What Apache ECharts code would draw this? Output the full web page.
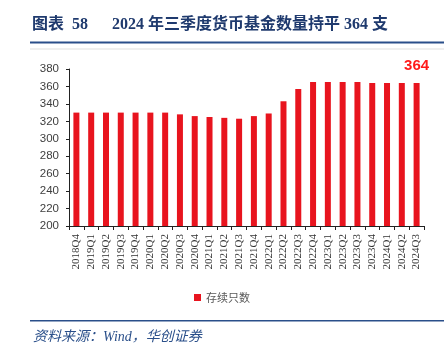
<!DOCTYPE html>
<html>
<head>
<meta charset="utf-8">
<script src="https://cdn.jsdelivr.net/npm/echarts@6/dist/echarts.min.js"></script>
<style>
  html, body { margin: 0; padding: 0; background: #fff; }
  #chart { width: 444px; height: 352px; }
</style>
</head>
<body>
<div id="chart"></div>
<script>
const quarters = [
  '2018Q4', '2019Q1', '2019Q2', '2019Q3', '2019Q4',
  '2020Q1', '2020Q2', '2020Q3', '2020Q4',
  '2021Q1', '2021Q2', '2021Q3', '2021Q4',
  '2022Q1', '2022Q2', '2022Q3', '2022Q4',
  '2023Q1', '2023Q2', '2023Q3', '2023Q4',
  '2024Q1', '2024Q2', '2024Q3'
];
const fundCount = [
  330, 330, 330, 330, 330,
  330, 330, 328, 326,
  325, 324, 323, 326,
  329, 343, 357, 365,
  365, 365, 365, 364,
  364, 364, 364
];
const seriesName = '存续只数';
const titleText = '图表  58      2024 年三季度货币基金数量持平 364 支';
const sourceText = '资料来源：Wind，华创证券';

const chart = echarts.init(document.getElementById('chart'));

const lastIdx = fundCount.length - 1;
const barData = fundCount.map((v, i) => i === lastIdx ? {
  value: v,
  label: {
    show: true,
    position: 'top',
    distance: 10,
    color: '#ff1a1a',
    fontWeight: 'bold',
    fontSize: 15,
    fontFamily: 'Liberation Sans, Arial, sans-serif'
  }
} : v);

const option = {
  animation: false,
  backgroundColor: '#fff',
  graphic: [
    {
      type: 'text', left: 32, top: 17,
      style: {
        text: titleText,
        fill: '#1f3a6e',
        font: 'bold 16px "Liberation Serif", "Noto Sans CJK SC", serif'
      }
    },
    {
      type: 'rect', shape: { x: 30, y: 41.5, width: 414, height: 2 },
      style: { fill: '#2a4f8a' }
    },
    {
      type: 'rect', shape: { x: 30, y: 48.5, width: 414, height: 1 },
      style: { fill: '#e0e0e0' }
    },
    {
      type: 'rect', shape: { x: 30, y: 320, width: 414, height: 1.6 },
      style: { fill: '#2a4f8a' }
    },
    {
      type: 'text', left: 33, top: 330,
      style: {
        text: sourceText,
        fill: '#2a4f8a',
        font: 'italic 14px "Liberation Serif", "Noto Sans CJK SC", serif'
      }
    }
  ],
  grid: { left: 69, right: 20, top: 69, bottom: 126 },
  legend: {
    data: [seriesName],
    bottom: 44,
    left: 'center',
    icon: 'rect',
    itemWidth: 7,
    itemHeight: 7,
    itemGap: 4,
    textStyle: {
      color: '#595959',
      fontSize: 11,
      fontFamily: '"Noto Sans CJK SC", serif'
    }
  },
  xAxis: {
    type: 'category',
    data: quarters,
    axisLine: { lineStyle: { color: '#222', width: 1 } },
    axisTick: { show: true, length: 4, lineStyle: { color: '#222' } },
    axisLabel: {
      rotate: 90,
      interval: 0,
      margin: 8,
      color: '#333',
      fontSize: 11,
      fontFamily: '"Liberation Serif", "Times New Roman", serif'
    }
  },
  yAxis: {
    type: 'value',
    min: 200,
    max: 380,
    interval: 20,
    splitLine: { show: false },
    axisLine: { show: true, lineStyle: { color: '#222', width: 1 } },
    axisTick: { show: true, length: 3, lineStyle: { color: '#222' } },
    axisLabel: {
      margin: 10,
      color: '#404040',
      fontSize: 11.5,
      fontFamily: '"Liberation Sans", Arial, sans-serif'
    }
  },
  series: [
    {
      name: seriesName,
      type: 'bar',
      data: barData,
      barWidth: 6,
      itemStyle: { color: '#e8141e' }
    }
  ]
};

chart.setOption(option);
</script>
</body>
</html>
